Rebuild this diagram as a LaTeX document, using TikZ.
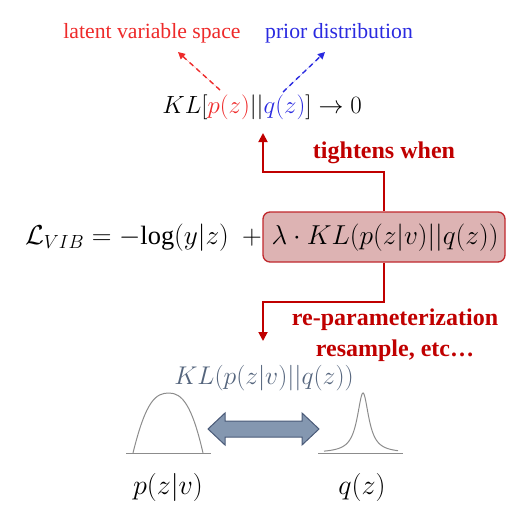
\documentclass[tikz,border=0pt]{standalone}
\usepackage{fontspec}
\setmainfont{Liberation Serif}
\usetikzlibrary{arrows.meta}
\definecolor{darkred}{HTML}{C00000}
\definecolor{lred}{HTML}{EE2A2A}
\definecolor{lblue}{HTML}{2A2AE0}
\definecolor{boxfill}{HTML}{DDB3B3}
\definecolor{boxline}{HTML}{C0282D}
\definecolor{klgray}{HTML}{55657D}
\definecolor{arrfill}{HTML}{8497B0}
\definecolor{arrline}{HTML}{4A5A78}
\definecolor{bellgray}{HTML}{8C8C8C}
\tikzset{
  lbl/.style={inner sep=0pt, font=\fontsize{21.7}{26}\selectfont},
  boldlbl/.style={inner sep=0pt, text=darkred, font=\fontsize{24}{31}\bfseries},
  mathlbl/.style={inner sep=0pt, font=\fontsize{24}{29}\selectfont},
  redflow/.style={draw=darkred, line width=1.8pt, -{Triangle[length=9pt,width=9pt]}},
  dasharrow/.style={dash pattern=on 5pt off 4pt, line width=1.4pt, -{Triangle[length=7pt,width=7pt]}},
  bell/.style={draw=bellgray, line width=1pt},
}
\begin{document}
\begin{tikzpicture}[x=1pt,y=-1pt]
\useasboundingbox (0,0) rectangle (511,506);
% top labels
\node[lbl, text=lred] (lvs) at (152,33) {latent variable space};
\node[lbl, text=lblue] (prior) at (339,33) {prior distribution};
\node[mathlbl] (kl1) at (262,107) {\scalebox{1.0}{$KL[{\color{lred}p(z)}||{\color{lblue}q(z)}]\to 0$}};
\coordinate (d1s) at (220,90);
\coordinate (d1e) at (178,52);
\coordinate (d2s) at (283,92);
\coordinate (d2e) at (325,52);
\draw[dasharrow, draw=lred, fill=lred] (d1s) -- (d1e);
\draw[dasharrow, draw=lblue, fill=lblue] (d2s) -- (d2e);
% main formula
\node[draw=boxline, fill=boxfill, line width=1.3pt, rounded corners=7pt,
      minimum width=242pt, minimum height=50pt, inner sep=0pt] (box) at (384,237) {};
\node[mathlbl] (kl2) at (385,238) {\scalebox{1.1}{$\lambda\cdot KL(p(z|v)||q(z))$}};
\node[mathlbl, anchor=east] (left) at (262,238) {\scalebox{1.1}{$\mathcal{L}_{VIB}=-\!\log(y|z)\ \ +$}};
% tightens
\node[boldlbl] (tight) at (384,153) {tightens when};
\coordinate (tip1) at (263,133);
\draw[redflow] (box.north) |- (263,172) -- (tip1);
% reparam
\node[boldlbl, align=center] (rep) at (395,335) {re-parameterization\\resample, etc\ldots};
\coordinate (tip2) at (263,341);
\draw[redflow] (box.south) |- (263,302) -- (tip2);
% bottom
\node[mathlbl, text=klgray] (kl3) at (264,378) {\scalebox{1.03}{$KL(p(z|v)||q(z))$}};
\draw[bell] (126,453) -- (211,453);
\draw[bell] (133,453) .. controls (146,400) and (156,393) .. (169,393) .. controls (182,393) and (192,405) .. (203,453);
\draw[bell] (318,453) -- (403,453);
\draw[bell] plot[domain=324:398, samples=120, smooth] (\x, {453-60/(1+((\x-363)/7)^2)});
\draw[fill=arrfill, draw=arrline, line width=1pt, line join=miter]
  (208,429) -- (225,413) -- (225,421) -- (302,421) -- (302,413) -- (319,429)
  -- (302,445) -- (302,437) -- (225,437) -- (225,445) -- cycle;
\node[mathlbl] (pzv) at (168,487) {\scalebox{1.13}{$p(z|v)$}};
\node[mathlbl] (qz) at (362,487) {\scalebox{1.13}{$q(z)$}};
\end{tikzpicture}
\end{document}
